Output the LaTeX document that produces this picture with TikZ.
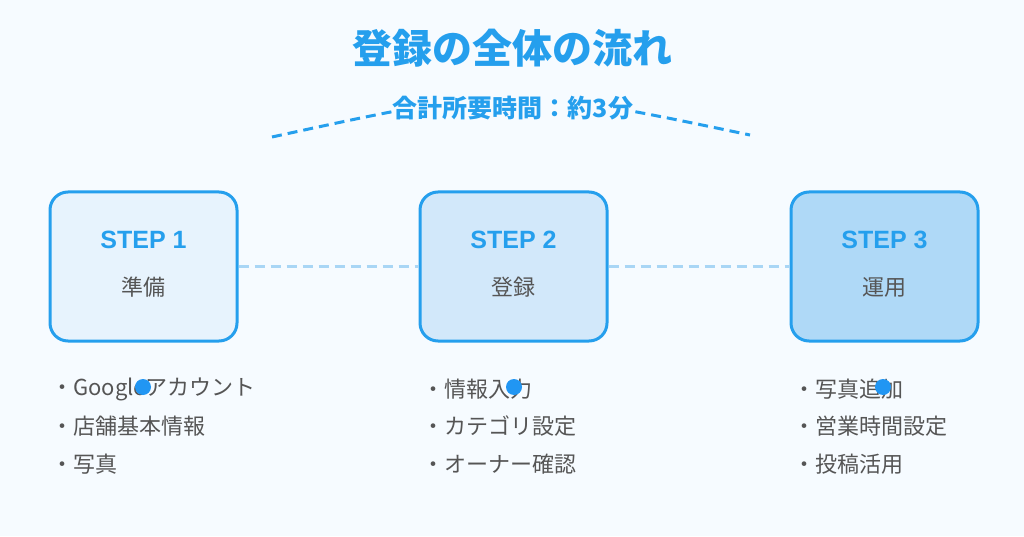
\documentclass[tikz,border=0pt]{standalone}
\usepackage{fontspec}
\usetikzlibrary{positioning}
\setmainfont{Noto Sans CJK JP}
\newfontfamily\latfont{Liberation Sans}
\definecolor{mainblue}{HTML}{259FED}
\definecolor{dotblue}{HTML}{2196F3}
\definecolor{paleblue}{HTML}{A9D6F5}
\definecolor{textgray}{HTML}{555555}
\definecolor{bgcolor}{HTML}{F6FBFF}
\definecolor{fillA}{HTML}{E7F3FD}
\definecolor{fillB}{HTML}{D2E8FA}
\definecolor{fillC}{HTML}{AFD9F7}

\tikzstyle{stepbox}=[
    draw=mainblue,
    line width=3pt,
    rounded corners=18pt,
    minimum height=149pt,
    minimum width=187pt,
  ]
\tikzstyle{steplabel}=[
    text=mainblue,
    font=\latfont\bfseries\fontsize{25}{25}\selectfont,
  ]
\tikzstyle{stepname}=[
    text=textgray,
    font=\fontsize{22}{22}\selectfont,
  ]
\tikzstyle{item}=[
    anchor=west,
    inner sep=0pt,
    text=textgray,
    font=\fontsize{22}{22}\selectfont,
  ]
\tikzstyle{link}=[
    paleblue,
    line width=3pt,
    dash pattern=on 10pt off 6pt,
  ]

\begin{document}
\begin{tikzpicture}[x=1pt,y=1pt]
      \fill[bgcolor] (0,0) rectangle (1024,536);
      \useasboundingbox (0,0) rectangle (1024,536);
      \node[text=mainblue, font=\bfseries\fontsize{40}{40}\selectfont] (title) at (512,488) {登録の全体の流れ};
      \coordinate (arcL) at (272,399);
      \coordinate (arcR) at (750,401);
      \draw[mainblue, line width=3pt, dash pattern=on 10pt off 6pt] (arcL) .. controls (511,451) .. (arcR);
      \node[text=mainblue, fill=bgcolor, inner xsep=0pt, inner ysep=4pt, font=\bfseries\fontsize{25}{25}\selectfont] (total) at (513,428) {合計所要時間：約3分};
      \foreach \name/\fillc/\cx/\lx [count=\x] in {準備/fillA/143.5/51, 登録/fillB/513.5/422, 運用/fillC/884.5/793} {%
        \node[stepbox, fill=\fillc] (box\x) at (\cx,269.5) {};
        \node[steplabel] (step\x) at (\cx,296) {STEP \x};
        \node[stepname] (name\x) at (\cx,249) {\name};
        \coordinate (list\x) at (\lx,147);
      }
      \draw[link] (box1) -- (box2);
      \draw[link] (box2) -- (box3);
      % lists
      \node[item] (itemA1) at (list1) {・Googleアカウント};
      \node[item, below=37.5pt of itemA1.west, anchor=west] (itemA2) {・店舗基本情報};
      \node[item, below=37.5pt of itemA2.west, anchor=west] (itemA3) {・写真};
      \node[item] (itemB1) at (list2) {・情報入力};
      \node[item, below=37.5pt of itemB1.west, anchor=west] (itemB2) {・カテゴリ設定};
      \node[item, below=37.5pt of itemB2.west, anchor=west] (itemB3) {・オーナー確認};
      \node[item] (itemC1) at (list3) {・写真追加};
      \node[item, below=37.5pt of itemC1.west, anchor=west] (itemC2) {・営業時間設定};
      \node[item, below=37.5pt of itemC2.west, anchor=west] (itemC3) {・投稿活用};
      % dots
      \foreach \dx [count=\x] in {143, 514, 883} {%
        \fill[dotblue] (\dx,149) circle (8pt);
      }
    \end{tikzpicture}
\end{document}
